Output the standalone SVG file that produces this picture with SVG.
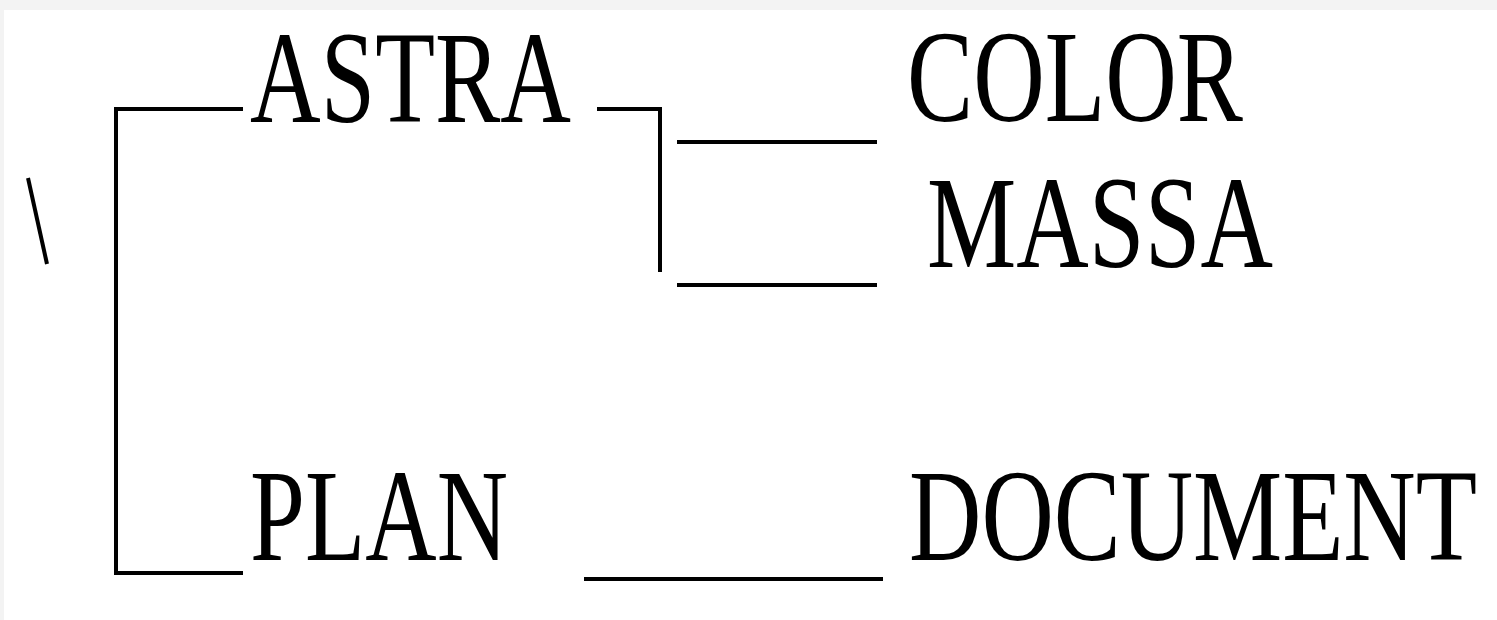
<svg xmlns="http://www.w3.org/2000/svg" width="1497" height="620" viewBox="0 0 1497 620">
<style>
.lbl{font-family:"Liberation Serif","Times New Roman",serif;font-size:100px;fill:#000}
.ln{stroke:#000;stroke-width:4;fill:none;stroke-linecap:butt}
</style>
<rect x="0" y="0" width="1497" height="620" fill="#ffffff"/>
<rect x="0" y="0" width="1497" height="10" fill="#f3f3f3"/>
<rect x="0" y="0" width="4" height="620" fill="#f3f3f3"/>
<g id="connectors">
<line class="ln" x1="28" y1="178" x2="47" y2="264" stroke-width="3"/>
<polyline class="ln" points="243,109 116,109 116,573 243,573"/>
<polyline class="ln" points="597,109 660,109 660,272"/>
<line class="ln" x1="677" y1="142" x2="877" y2="142" stroke-width="5"/>
<line class="ln" x1="677" y1="285" x2="877" y2="285" stroke-width="5"/>
<line class="ln" x1="584" y1="579" x2="883" y2="579" stroke-width="5"/>
</g>
<g id="node-astra" transform="translate(250,122) scale(1,1.32)"><text class="lbl" x="0" y="0" textLength="321" lengthAdjust="spacingAndGlyphs">ASTRA</text></g>
<g id="node-color" transform="translate(907,121) scale(1,1.32)"><text class="lbl" x="0" y="0" textLength="336" lengthAdjust="spacingAndGlyphs">COLOR</text></g>
<g id="node-massa" transform="translate(927,267) scale(1,1.32)"><text class="lbl" x="0" y="0" textLength="346" lengthAdjust="spacingAndGlyphs">MASSA</text></g>
<g id="node-plan" transform="translate(250,560) scale(1,1.32)"><text class="lbl" x="0" y="0" textLength="258" lengthAdjust="spacingAndGlyphs">PLAN</text></g>
<g id="node-document" transform="translate(909,560) scale(1,1.32)"><text class="lbl" x="0" y="0" textLength="568" lengthAdjust="spacingAndGlyphs">DOCUMENT</text></g>
</svg>
